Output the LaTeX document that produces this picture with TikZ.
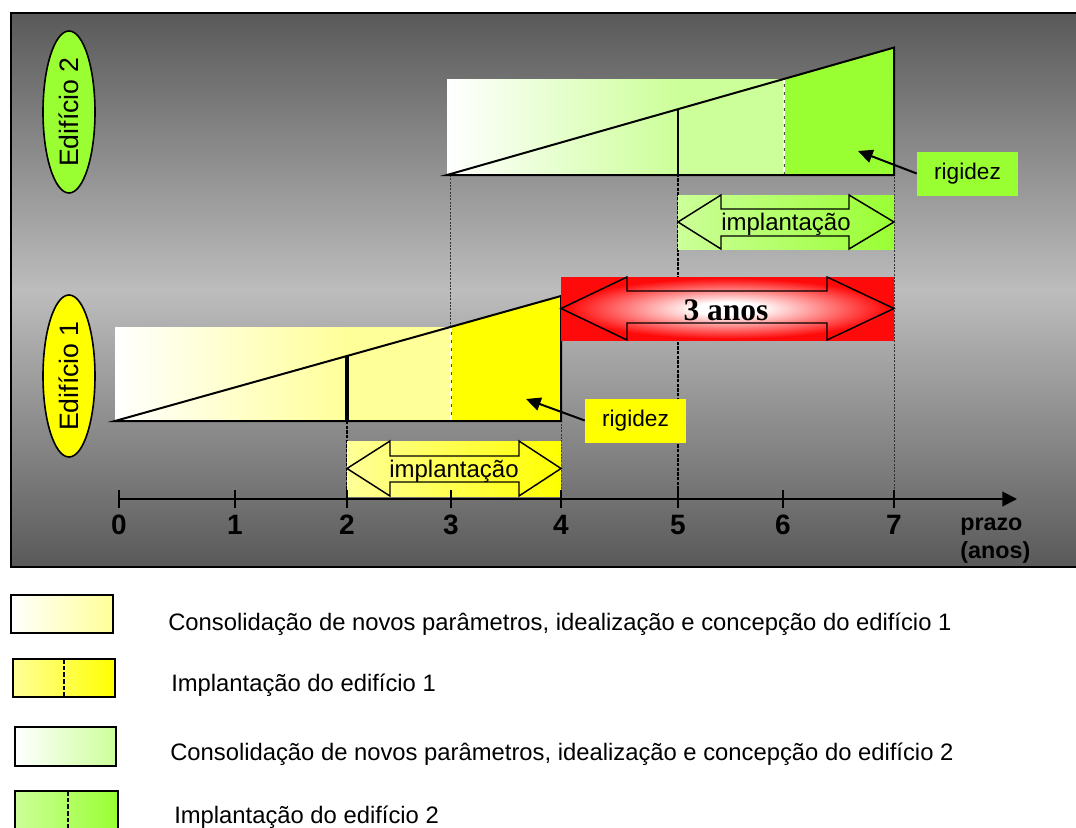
\documentclass[tikz,border=0pt]{standalone}
\usepackage{fontspec}
\setmainfont{Liberation Sans}
\newfontfamily\serifbold{Liberation Serif}
\usetikzlibrary{arrows.meta,shapes.geometric,calc}
\definecolor{ly}{HTML}{FFFF99}
\definecolor{yy}{HTML}{FFFF00}
\definecolor{lg}{HTML}{CCFF99}
\definecolor{gg}{HTML}{99FF33}
\definecolor{rr}{HTML}{FF0A0A}
\definecolor{bgdark}{gray}{0.35}
\definecolor{bglight}{gray}{0.74}
\pgfdeclareradialshading{glow}{\pgfpoint{0bp}{0bp}}{color(0bp)=(white); color(5bp)=(white); color(24bp)=(rr); color(50bp)=(rr)}
\begin{document}
\begin{tikzpicture}[x=0.75pt,y=-0.75pt,
  outl/.style={line width=1.5pt, line join=miter},
  dblarrow/.style={draw=black, line width=1.1pt, line join=miter},
  guidethick/.style={line width=2.2pt, dash pattern=on 2.5pt off 1pt},
  guidethin/.style={line width=0.7pt, gray!40!black, dash pattern=on 1.5pt off 1pt},
  lbl/.style={font=\fontsize{18}{21}\selectfont, inner sep=0pt},
  rig/.style={font=\fontsize{17}{20}\selectfont, minimum width=75.75pt, minimum height=33pt, inner sep=0pt},
  tick/.style={font=\fontsize{21}{24}\selectfont\bfseries, inner sep=0pt},
  leg/.style={font=\fontsize{17.85}{21}\selectfont, inner sep=0pt, anchor=base west},
  legbox/.style={draw=black, line width=1.5pt},
  edif/.style={ellipse, draw=black, line width=1.2pt, rotate=90, minimum width=121.5pt, minimum height=39pt, inner sep=0pt, font=\fontsize{20}{24}\selectfont},
  pointer/.style={line width=1.5pt, -{Triangle[length=11pt,width=10pt]}}]
\useasboundingbox (0,0) rectangle (1076,828);

% background frame
\shade[top color=bgdark, bottom color=bglight] (11,13) rectangle (1090,291);
\shade[top color=bglight, bottom color=bgdark] (11,290) rectangle (1090,567);
\draw[line width=2.2pt] (11,13) rectangle (1090,567);

% axis coordinates
\coordinate (t0) at (119,499);
\coordinate (t1) at (235,499);
\coordinate (t2) at (347,499);
\coordinate (t3) at (451,499);
\coordinate (t4) at (561,499);
\coordinate (t5) at (678,499);
\coordinate (t6) at (783,499);
\coordinate (t7) at (894,499);
\coordinate (axend) at (1017,499);

% guide lines
\draw[guidethick] (t2) -- (347,421);
\draw[guidethin] (450,175) -- (450,327);
\draw[guidethin] (t4) -- (561,421);
\draw[guidethick] (t5) -- (678,175);
\draw[guidethin] (t7) -- (894,175);

% Edificio 2 bars
\shade[left color=white, right color=lg] (447,79) rectangle (678,175);
\fill[lg] (678,79) rectangle (784,175);
\fill[gg] (784,79) -- (894,47.6) -- (894,175) -- (784,175) -- cycle;
\draw[line width=0.6pt, gray!60!black] (784,79) -- (784,175);
\draw[line width=1pt, white, dash pattern=on 4pt off 2pt] (784,79) -- (784,175);
\draw[outl] (447,175) -- (894,175) -- (894,47.6) -- cycle;
\draw[line width=2pt] (678,175) -- (678,109);

% Edificio 1 bars
\shade[left color=white, right color=ly] (115,327) rectangle (347,421);
\fill[ly] (347,327) rectangle (451,421);
\fill[yy] (451,326.8) -- (561,296) -- (561,421) -- (451,421) -- cycle;
\draw[line width=0.6pt, gray!60!black] (451,327) -- (451,421);
\draw[line width=1pt, white, dash pattern=on 4pt off 2pt] (451,327) -- (451,421);
\draw[outl] (115,421) -- (561,421) -- (561,296) -- cycle;
\draw[line width=3pt] (347,421) -- (347,356);

% implantacao 1
\shade[left color=ly, right color=yy] (347,441) rectangle (561,496);
\draw[dblarrow] (347,468.5) -- (390,441) -- (390,456) -- (519,456) -- (519,441) -- (561,468.5)
  -- (519,496) -- (519,482) -- (390,482) -- (390,496) -- cycle;
\node[lbl, anchor=base] (imp1) at (454,477) {implantação};

% implantacao 2
\shade[left color=lg, right color=gg] (678,195) rectangle (894,249);
\draw[dblarrow] (678,222) -- (721,195) -- (721,209) -- (849,209) -- (849,195) -- (894,222)
  -- (849,249) -- (849,236) -- (721,236) -- (721,249) -- cycle;
\node[lbl, anchor=base] (imp2) at (786,230) {implantação};

% 3 anos
\shade[shading=glow] (561,277) rectangle (894,340);
\draw[dblarrow] (561,308.5) -- (627,277) -- (627,291) -- (827,291) -- (827,277) -- (894,308.5)
  -- (827,340) -- (827,323) -- (627,323) -- (627,340) -- cycle;
\node[anchor=base, inner sep=0pt, font=\fontsize{23.6}{28}\selectfont\serifbold\bfseries] (three) at (726,320) {3 anos};

% rigidez labels
\node[rig, fill=gg] (rig2) at (967.5,173.5) {rigidez};
\coordinate (tip2) at (858,151);
\draw[pointer] (rig2.west) -- (tip2);
\node[rig, fill=yy] (rig1) at (635.5,420.5) {rigidez};
\coordinate (tip1) at (526,399);
\draw[pointer] (rig1.west) -- (tip1);

% edificio ellipses
\node[edif, fill=gg] (ed2) at (69,112) {Edifício 2};
\node[edif, fill=yy] (ed1) at (69,376) {Edifício 1};

% axis
\draw[line width=1.5pt, -{Triangle[length=11pt,width=11pt]}] (t0) -- (axend);
\foreach \t in {t0,t1,t2,t3,t4,t5,t6,t7}{
  \draw[line width=1.5pt] ($(\t)+(0,-9)$) -- ($(\t)+(0,9)$);
}
\foreach \t/\n in {t0/0,t1/1,t2/2,t3/3,t4/4,t5/5,t6/6,t7/7}{
  \node[tick, anchor=base] (lab\n) at ($(\t)+(0,35)$) {\n};
}
\node[tick, anchor=base west, font=\fontsize{17.5}{22}\selectfont\bfseries] (prazo) at (960,530) {prazo};
\node[tick, anchor=base west, font=\fontsize{17.5}{22}\selectfont\bfseries] (anos) at (960,558) {(anos)};

% legend
\shade[left color=white, right color=ly] (11,595) rectangle (113,633);
\draw[legbox] (11,595) rectangle (113,633);
\shade[left color=ly, right color=yy] (13,659) rectangle (115,697);
\draw[legbox] (13,659) rectangle (115,697);
\draw[line width=1.5pt, dash pattern=on 3.5pt off 1.5pt] (64,659) -- (64,697);
\shade[left color=white, right color=lg] (15,727) rectangle (116,766);
\draw[legbox] (15,727) rectangle (116,766);
\shade[left color=lg, right color=gg] (15,791) rectangle (118,840);
\draw[legbox] (15,791) rectangle (118,840);
\draw[line width=1.5pt, dash pattern=on 3.5pt off 1.5pt] (68,791) -- (68,840);

\node[leg] (leg1) at (168,630) {Consolidação de novos parâmetros, idealização e concepção do edifício 1};
\node[leg] (leg2) at (171,691) {Implantação do edifício 1};
\node[leg] (leg3) at (170,760) {Consolidação de novos parâmetros, idealização e concepção do edifício 2};
\node[leg] (leg4) at (174,823) {Implantação do edifício 2};
\end{tikzpicture}
\end{document}
